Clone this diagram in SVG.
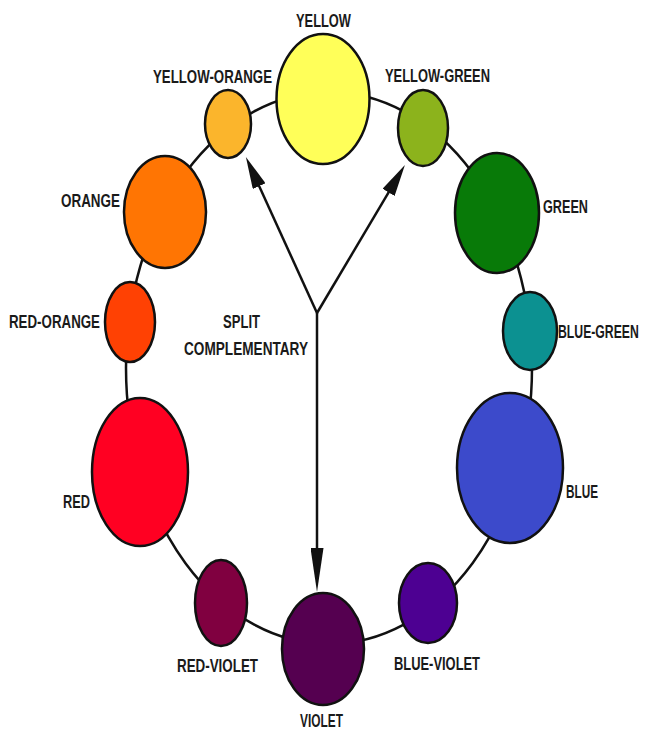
<svg xmlns="http://www.w3.org/2000/svg" width="645" height="733" viewBox="0 0 645 733">
<style>
.node{stroke:#111;stroke-width:2.5}
.ring{fill:none;stroke:#111;stroke-width:2.5}
.arrow{fill:none;stroke:#111;stroke-width:2.5}
text{font-family:"Liberation Sans",Arial,sans-serif;font-weight:bold;font-size:18px;fill:#1a1a1a}
</style>
<defs>
<marker id="ah" markerUnits="userSpaceOnUse" viewBox="0 0 32 14" refX="12" refY="7" markerWidth="32" markerHeight="14" orient="auto">
<path d="M0,0 L32,7 L0,14 z" fill="#111"/>
</marker>
<marker id="ahd" markerUnits="userSpaceOnUse" viewBox="0 0 44 13" refX="19" refY="6.5" markerWidth="44" markerHeight="13" orient="auto">
<path d="M0,0 L44,6.5 L0,13 z" fill="#111"/>
</marker>
</defs>
<rect width="645" height="733" fill="#fff"/>
<g id="connectors">
<ellipse class="ring" cx="329" cy="368" rx="203" ry="276"/>
<path class="arrow" d="M317,313 L254.2,175.2" marker-end="url(#ah)"/>
<path class="arrow" d="M317,313 L394.7,182.1" marker-end="url(#ah)"/>
<path class="arrow" d="M317,313 L317,567" marker-end="url(#ahd)"/>
</g>
<g id="yellow"><ellipse class="node" cx="323" cy="99" rx="46.5" ry="65" fill="#FFFF59"/><text x="296" y="27" textLength="55" lengthAdjust="spacingAndGlyphs">YELLOW</text></g>
<g id="yellow-orange"><ellipse class="node" cx="228" cy="124" rx="23" ry="34" fill="#FBB52C"/><text x="153" y="83" textLength="119" lengthAdjust="spacingAndGlyphs">YELLOW-ORANGE</text></g>
<g id="yellow-green"><ellipse class="node" cx="423" cy="128" rx="25" ry="38" fill="#8CB31C"/><text x="385" y="82" textLength="105" lengthAdjust="spacingAndGlyphs">YELLOW-GREEN</text></g>
<g id="orange"><ellipse class="node" cx="165" cy="212" rx="41" ry="56" fill="#FF7503"/><text x="61" y="207" textLength="59" lengthAdjust="spacingAndGlyphs">ORANGE</text></g>
<g id="green"><ellipse class="node" cx="497" cy="213" rx="42" ry="60" fill="#087A08"/><text x="543" y="213" textLength="45" lengthAdjust="spacingAndGlyphs">GREEN</text></g>
<g id="red-orange"><ellipse class="node" cx="130" cy="322" rx="25" ry="40" fill="#FF4103"/><text x="9" y="328" textLength="91" lengthAdjust="spacingAndGlyphs">RED-ORANGE</text></g>
<g id="blue-green"><ellipse class="node" cx="530" cy="331" rx="27" ry="39" fill="#0C9191"/><text transform="translate(558,338) scale(0.68,1)" x="0" y="0">BLUE-GREEN</text></g>
<g id="red"><ellipse class="node" cx="140" cy="472" rx="48" ry="74" fill="#FF0022"/><text x="63" y="508" textLength="27" lengthAdjust="spacingAndGlyphs">RED</text></g>
<g id="blue"><ellipse class="node" cx="510" cy="468" rx="53" ry="75" fill="#3C4ACB"/><text x="566" y="498" textLength="32" lengthAdjust="spacingAndGlyphs">BLUE</text></g>
<g id="red-violet"><ellipse class="node" cx="221" cy="603" rx="26" ry="43" fill="#800040"/><text x="177" y="672" textLength="81" lengthAdjust="spacingAndGlyphs">RED-VIOLET</text></g>
<g id="blue-violet"><ellipse class="node" cx="428" cy="603" rx="29" ry="40" fill="#4D0092"/><text x="394" y="670" textLength="86" lengthAdjust="spacingAndGlyphs">BLUE-VIOLET</text></g>
<g id="violet"><ellipse class="node" cx="323" cy="649" rx="41" ry="56" fill="#550050"/><text x="300" y="727" textLength="43" lengthAdjust="spacingAndGlyphs">VIOLET</text></g>
<g id="label-split"><text x="223" y="328" textLength="37" lengthAdjust="spacingAndGlyphs">SPLIT</text><text x="184" y="355" textLength="124" lengthAdjust="spacingAndGlyphs">COMPLEMENTARY</text></g>
</svg>
